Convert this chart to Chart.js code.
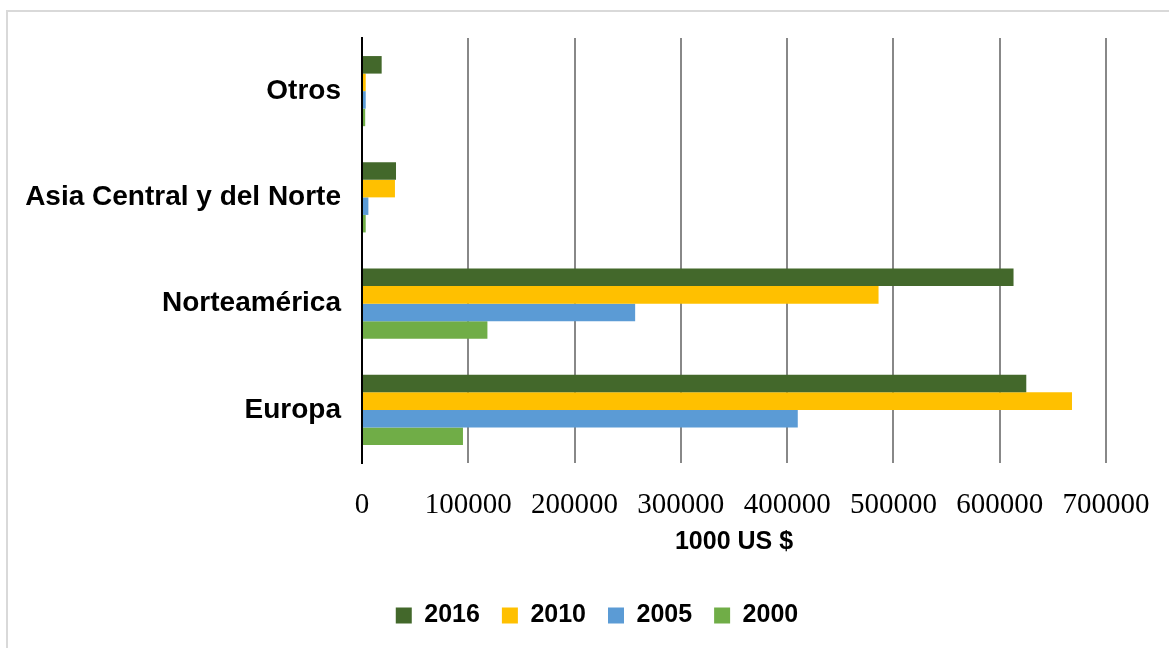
<!DOCTYPE html>
<html>
<head>
<meta charset="utf-8">
<script src="https://cdn.jsdelivr.net/npm/chart.js@4"></script>
<style>
    html, body { margin: 0; padding: 0; background: #fff; }
    #wrap { position: relative; width: 1169px; height: 648px; overflow: hidden; }
    #frame {
        position: absolute; left: 6px; top: 10px; width: 1200px; height: 700px;
        border-left: 2px solid #d9d9d9; border-top: 2px solid #d9d9d9;
        pointer-events: none;
    }
    canvas { position: absolute; left: 0; top: 0; }
</style>
</head>
<body>
<div id="wrap">
    <canvas id="chart" width="1169" height="648"></canvas>
    <div id="frame"></div>
</div>
<script>
// Data
const regions = ['Otros', 'Asia Central y del Norte', 'Norteamérica', 'Europa'];
const years = ['2016', '2010', '2005', '2000'];
const values2016 = [18500, 32000, 613000, 625000];
const values2010 = [3500, 31000, 486000, 668000];
const values2005 = [3500, 6000, 257000, 410000];
const values2000 = [3000, 3500, 118000, 95000];
const xTicks = [0, 100000, 200000, 300000, 400000, 500000, 600000, 700000];

const colors = ['#43682B', '#FFC000', '#5B9BD5', '#70AD47'];
const series = [values2016, values2010, values2005, values2000];

const sansBold = (size) => ({ family: "'Liberation Sans', Arial, sans-serif", size: size, weight: 'bold' });

new Chart(document.getElementById('chart'), {
    type: 'bar',
    data: {
        labels: regions,
        datasets: years.map((y, i) => ({
            label: y,
            data: series[i],
            backgroundColor: colors[i],
            borderWidth: 0,
            categoryPercentage: 0.66,
            barPercentage: 1.0
        }))
    },
    options: {
        indexAxis: 'y',
        responsive: false,
        animation: false,
        layout: { padding: { left: 25, right: 0, top: 38, bottom: 10 } },
        scales: {
            x: {
                min: 0,
                max: 700000,
                afterBuildTicks: (scale) => {
                    scale.ticks = xTicks.map(v => ({ value: v }));
                },
                afterFit: (scale) => {
                    scale.paddingRight = 63;
                    scale.height = 118;
                },
                grid: {
                    color: (ctx) => (ctx.tick && ctx.tick.value === 0) ? '#000' : '#888888',
                    lineWidth: 2,
                    drawTicks: false
                },
                border: { display: false },
                ticks: {
                    color: '#000',
                    padding: 25,
                    maxRotation: 0,
                    autoSkip: false,
                    font: { family: "'Liberation Serif', 'Times New Roman', serif", size: 29 },
                    callback: (v) => String(v)
                },
                title: {
                    display: true,
                    text: '1000 US $',
                    color: '#000',
                    font: sansBold(25),
                    padding: { top: 4, bottom: 24 }
                }
            },
            y: {
                afterFit: (scale) => {
                    scale.width = 337;
                },
                grid: { display: false, drawTicks: false },
                border: { display: true, color: '#000', width: 2 },
                ticks: {
                    color: '#000',
                    padding: 21,
                    font: sansBold(28)
                }
            }
        },
        plugins: {
            legend: {
                position: 'bottom',
                labels: {
                    color: '#000',
                    boxWidth: 16,
                    boxHeight: 16,
                    padding: 22,
                    font: sansBold(25)
                }
            },
            tooltip: { enabled: false }
        }
    }
});
</script>
</body>
</html>
